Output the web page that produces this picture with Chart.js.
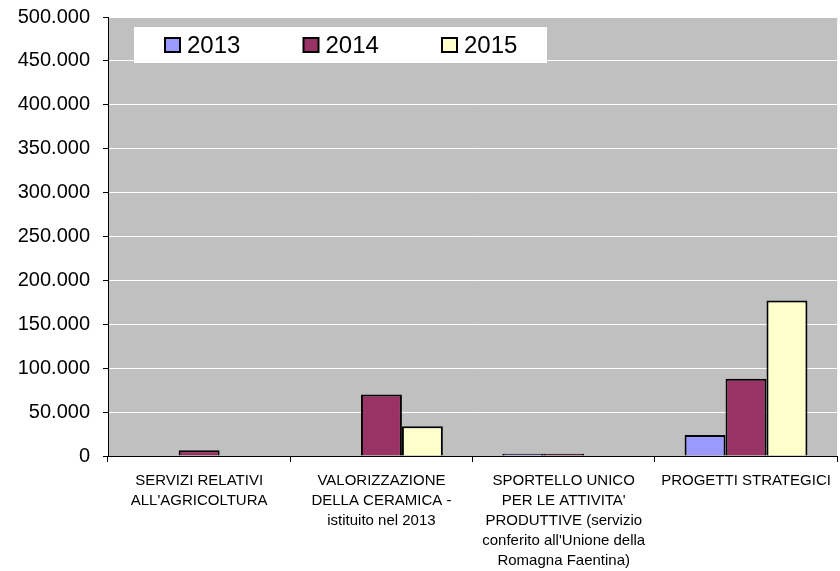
<!DOCTYPE html>
<html>
<head>
    <meta charset="UTF-8">
    <title>Spese per servizio 2013-2015</title>
    <script src="https://cdn.jsdelivr.net/npm/chart.js@4"></script>
    <style>
        body { margin: 0; background: #ffffff; }
        .chart-container { position: relative; width: 840px; height: 571px; }
    </style>
</head>
<body>
    <div class="chart-container">
        <canvas id="spesaChart" width="840" height="571"></canvas>
    </div>

    <script>
        // dati
        const categories = [
            ["SERVIZI RELATIVI", "ALL'AGRICOLTURA"],
            ["VALORIZZAZIONE", "DELLA CERAMICA -", "istituito nel 2013"],
            ["SPORTELLO UNICO", "PER LE ATTIVITA'", "PRODUTTIVE (servizio", "conferito all'Unione della", "Romagna Faentina)"],
            ["PROGETTI STRATEGICI"]
        ];
        const years = ['2013', '2014', '2015'];
        const values2013 = [0, 0, 2500, 24000];
        const values2014 = [6500, 70000, 2500, 88000];
        const values2015 = [0, 34000, 0, 177000];
        const yMax = 500000;
        const yStep = 50000;

        const colors = ['#9999FF', '#993366', '#FFFFCC'];

        function formatNum(v) {
            return String(v).replace(/\B(?=(\d{3})+(?!\d))/g, '.');
        }

        // sfondo grigio dell'area del grafico
        const plotBackground = {
            id: 'plotBackground',
            beforeDraw(chart) {
                const { ctx, chartArea: a } = chart;
                ctx.save();
                ctx.fillStyle = '#C0C0C0';
                ctx.fillRect(a.left, a.top, a.right - a.left, a.bottom - a.top);
                ctx.restore();
            }
        };

        // legenda dentro l'area del grafico, su fondo bianco
        const boxLegend = {
            id: 'boxLegend',
            afterDraw(chart) {
                const { ctx, chartArea: a } = chart;
                const x0 = a.left + 26, y0 = a.top + 10;
                ctx.save();
                ctx.fillStyle = '#ffffff';
                ctx.fillRect(x0, y0, 413, 36);
                ctx.font = '24px Arial, "Liberation Sans", sans-serif';
                ctx.textBaseline = 'middle';
                chart.data.datasets.forEach((ds, i) => {
                    const sx = x0 + 31 + i * 138.5;
                    const sy = y0 + 11;
                    ctx.fillStyle = ds.backgroundColor;
                    ctx.fillRect(sx, sy, 15, 14);
                    ctx.strokeStyle = '#000';
                    ctx.lineWidth = 2;
                    ctx.strokeRect(sx, sy, 15, 14);
                    ctx.fillStyle = '#000';
                    ctx.fillText(ds.label, sx + 22, y0 + 19);
                });
                ctx.restore();
            }
        };

        const ctx = document.getElementById('spesaChart').getContext('2d');
        new Chart(ctx, {
            type: 'bar',
            data: {
                labels: categories,
                datasets: [
                    { label: years[0], data: values2013, backgroundColor: colors[0] },
                    { label: years[1], data: values2014, backgroundColor: colors[1] },
                    { label: years[2], data: values2015, backgroundColor: colors[2] }
                ].map(d => Object.assign(d, {
                    borderColor: '#000000',
                    borderWidth: 2,
                    barPercentage: 1,
                    categoryPercentage: 0.674
                }))
            },
            options: {
                responsive: false,
                animation: false,
                layout: { padding: { top: 17, right: 1, left: 0, bottom: 0 } },
                plugins: {
                    legend: { display: false },
                    tooltip: { enabled: false }
                },
                scales: {
                    x: {
                        grid: {
                            drawOnChartArea: false,
                            drawTicks: true,
                            tickLength: 6,
                            tickColor: '#000000'
                        },
                        border: { color: '#000000', width: 1 },
                        ticks: {
                            color: '#000000',
                            maxRotation: 0,
                            autoSkip: false,
                            padding: 9,
                            font: { family: 'Arial, "Liberation Sans", sans-serif', size: 15, lineHeight: 1.33 }
                        },
                        afterFit(scale) { scale.height = 115; }
                    },
                    y: {
                        min: 0,
                        max: yMax,
                        grid: {
                            color: '#ffffff',
                            lineWidth: 1,
                            tickLength: 5,
                            tickColor: '#000000'
                        },
                        border: { color: '#000000', width: 1 },
                        ticks: {
                            stepSize: yStep,
                            color: '#000000',
                            padding: 13,
                            font: { family: 'Arial, "Liberation Sans", sans-serif', size: 20 },
                            callback: v => formatNum(v)
                        },
                        afterFit(scale) {
                            scale.width = 108;
                            scale.paddingTop = 0;
                            scale.paddingBottom = 0;
                        }
                    }
                }
            },
            plugins: [plotBackground, boxLegend]
        });
    </script>
</body>
</html>
